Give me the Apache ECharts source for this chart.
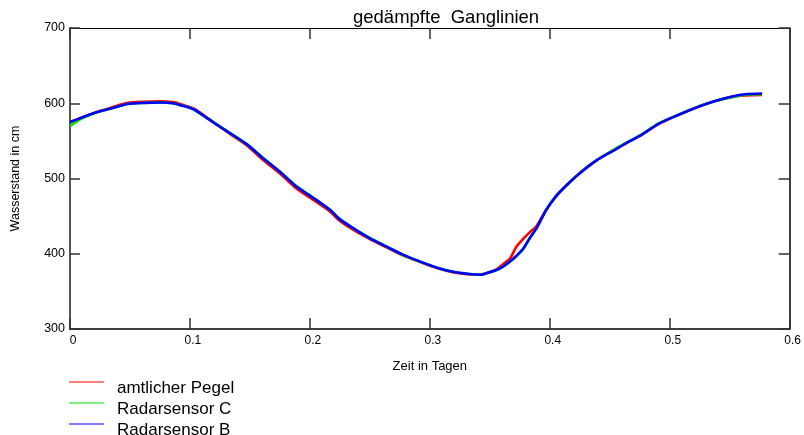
<!DOCTYPE html>
<html>
<head>
<meta charset="utf-8">
<script src="https://cdn.jsdelivr.net/npm/echarts@6/dist/echarts.min.js"></script>
<style>
  html, body { margin: 0; padding: 0; background: #fff; }
  #chart { width: 804px; height: 435px; }
</style>
</head>
<body>
<div id="chart"></div>
<script>
// Zeit in Tagen
const times = [0, 0.01, 0.02, 0.034, 0.048, 0.061, 0.075, 0.086, 0.092, 0.103, 0.109, 0.12, 0.134,
  0.147, 0.161, 0.175, 0.189, 0.203, 0.217, 0.224, 0.236, 0.25, 0.264, 0.278, 0.292, 0.306, 0.319,
  0.333, 0.342, 0.347, 0.355, 0.361, 0.367, 0.372, 0.378, 0.383, 0.389, 0.397, 0.405, 0.414, 0.425,
  0.439, 0.452, 0.466, 0.475, 0.491, 0.508, 0.525, 0.538, 0.552, 0.563, 0.577];

// Wasserstand in cm
const pegel = [575, 581, 587, 594, 600.5, 602, 602.5, 601.5, 599, 593, 587, 574.5, 558.5, 544.5, 524.5,
  506.5, 486.5, 471.5, 456, 445, 432, 419.5, 408.5, 397.5, 389, 381, 375.5, 372.5, 372, 374, 379,
  386, 394, 409, 420, 428, 437, 459, 476, 491, 507, 524, 536.5, 549, 556.5, 572.5, 585, 596, 603, 608.5,
  610.5, 611];
const radarC = [570, 580, 586.5, 593, 599, 600.5, 601, 600, 597.5, 592, 585.5, 574.5, 560, 546,
  527.5, 509, 489.5, 474.5, 458, 447.5, 434, 421, 409.5, 398, 389.5, 381.5, 376.5, 373, 372, 374,
  378, 383, 389.5, 396.5, 406.5, 420, 434, 458, 476.5, 491, 507.5, 524.5, 537, 549.5, 557, 573.5,
  585, 596.5, 603, 608, 611.5, 612];
const radarB = [575, 581, 587, 593, 599, 600.5, 601, 600, 597.5, 592, 586, 574, 559.5, 546, 527, 509,
  489, 474, 458, 447, 434, 420.5, 409.5, 398.5, 389.5, 381.5, 376, 373, 372, 374, 378, 383, 390, 397,
  407, 420, 434, 458, 476, 491, 507, 524, 536, 549, 556.5, 573, 585, 596, 603, 609, 612, 613];

const xTicks = [0, 0.1, 0.2, 0.3, 0.4, 0.5, 0.6];
const yTicks = [300, 400, 500, 600, 700];

const seriesNames = ['amtlicher Pegel', 'Radarsensor C', 'Radarsensor B'];
const seriesColors = ['#ff0000', '#00e000', '#0000ff'];
const seriesValues = [pegel, radarC, radarB];

const chart = echarts.init(document.getElementById('chart'));

const font = 'Liberation Sans, Arial, sans-serif';
const tickStyle = { color: '#333', width: 1.5 };

function pairs(values) {
  return times.map((t, i) => [t, values[i]]);
}

// thin line drawn in the upper part of the icon box (as in the original legend)
const legendIcon = 'path://M0,0H35V0.01H0Z M0,0.5H35V1.5H0Z M0,13.99H35V14H0Z';
const legendTops = [379, 400, 421];

chart.setOption({
  animation: false,
  title: {
    text: 'gedämpfte  Ganglinien',
    left: 353,
    top: 8,
    padding: 0,
    textStyle: { fontFamily: font, fontSize: 18.5, fontWeight: 'normal', color: '#000' }
  },
  legend: seriesNames.map((name, i) => ({
    data: [name],
    left: 69,
    top: legendTops[i],
    padding: 0,
    icon: legendIcon,
    itemWidth: 35,
    itemHeight: 14,
    selectedMode: false,
    textStyle: {
      fontFamily: font,
      fontSize: 17,
      lineHeight: 18,
      color: '#000',
      padding: [0, 0, 0, 8]
    }
  })),
  grid: { left: 70, right: 13, top: 28, bottom: 106 },
  xAxis: [
    {
      type: 'value',
      position: 'bottom',
      min: xTicks[0],
      max: xTicks[xTicks.length - 1],
      interval: 0.1,
      name: 'Zeit in Tagen',
      nameLocation: 'middle',
      nameGap: 31,
      nameTextStyle: { fontFamily: font, fontSize: 13, color: '#000' },
      axisLine: { show: true, onZero: false, lineStyle: { color: '#000', width: 1.5 } },
      axisTick: { show: true, inside: true, length: 11, lineStyle: tickStyle },
      axisLabel: {
        fontFamily: font, fontSize: 12, color: '#000', margin: 6,
        padding: [0, 0, 0, 6],
        showMinLabel: true, showMaxLabel: true
      },
      splitLine: { show: false }
    },
    {
      type: 'value',
      position: 'top',
      min: xTicks[0],
      max: xTicks[xTicks.length - 1],
      interval: 0.1,
      axisLine: { show: true, onZero: false, lineStyle: { color: '#000', width: 1 } },
      axisTick: { show: true, inside: true, length: 11, lineStyle: tickStyle },
      axisLabel: { show: false },
      splitLine: { show: false }
    }
  ],
  yAxis: [
    {
      type: 'value',
      position: 'left',
      min: yTicks[0],
      max: yTicks[yTicks.length - 1],
      interval: 100,
      name: 'Wasserstand in cm',
      nameLocation: 'middle',
      nameGap: 48,
      nameTextStyle: { fontFamily: font, fontSize: 12.5, color: '#000' },
      axisLine: { show: true, onZero: false, lineStyle: { color: '#555', width: 2 } },
      axisTick: { show: true, inside: true, length: 10, lineStyle: tickStyle },
      axisLabel: { fontFamily: font, fontSize: 12.5, color: '#000', margin: 5 },
      splitLine: { show: false }
    },
    {
      type: 'value',
      position: 'right',
      min: yTicks[0],
      max: yTicks[yTicks.length - 1],
      interval: 100,
      axisLine: { show: true, onZero: false, lineStyle: { color: '#000', width: 1.5 } },
      axisTick: { show: true, inside: true, length: 11, lineStyle: tickStyle },
      axisLabel: { show: false },
      splitLine: { show: false }
    }
  ],
  series: seriesNames.map((name, i) => ({
    name: name,
    type: 'line',
    xAxisIndex: 0,
    yAxisIndex: 0,
    symbol: 'none',
    smooth: 0.25,
    color: seriesColors[i],
    lineStyle: { color: seriesColors[i], width: 2.6 },
    z: 2 + i,
    data: pairs(seriesValues[i])
  }))
});
</script>
</body>
</html>
